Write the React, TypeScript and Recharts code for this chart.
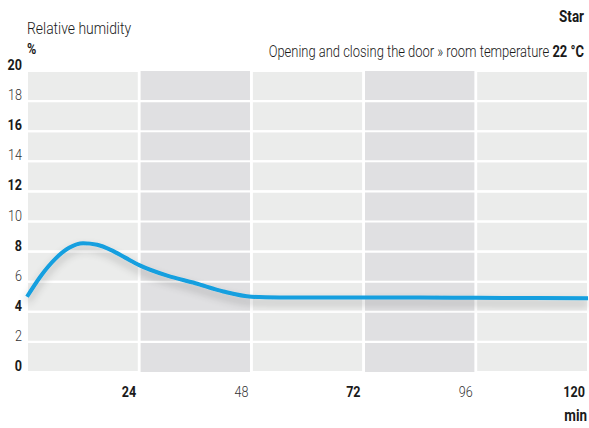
import { LineChart, Line, XAxis, YAxis, CartesianGrid, ReferenceArea } from 'recharts';

const minutes = [0, 3, 6, 9, 12, 15, 18, 21, 24, 30, 36, 42, 48, 54, 60, 72, 84, 96, 108, 120];
const humidity = [5.0, 6.4, 7.5, 8.25, 8.55, 8.45, 8.1, 7.6, 7.1, 6.4, 5.9, 5.35, 5.0, 4.95, 4.95, 4.95, 4.95, 4.93, 4.92, 4.9];
const xTicks = [0, 24, 48, 72, 96, 120];
const yTicks = [0, 2, 4, 6, 8, 10, 12, 14, 16, 18, 20];
const boldX = [24, 72, 120];
const boldY = [0, 4, 8, 12, 16, 20];
const darkBands = [
  [24, 48],
  [72, 96],
];

const data = minutes.map((m, i) => ({ min: m, rh: humidity[i] }));

const FONT = '"Roboto", "Liberation Sans", sans-serif';
const TEXT = '#1a1a1a';

// condensed text: Roboto squeezed horizontally
function Narrow({ x, y, anchor = 'start', bold = false, size = 16, sx = 0.84, fill = TEXT, children }: any) {
  return (
    <g transform={`translate(${x} ${y}) scale(${sx} 1)`}>
      <text x={0} y={0} textAnchor={anchor} fontFamily={FONT} fontSize={size}
        fontWeight={bold ? 700 : 300} fill={fill}>
        {children}
      </text>
    </g>
  );
}

function YTick({ y, payload }: any) {
  const bold = boldY.includes(payload.value);
  return (
    <Narrow x={22} y={y - 1} anchor="end" bold={bold} size={15} fill={bold ? TEXT : '#333'}>
      {payload.value}
    </Narrow>
  );
}

function XTick({ x, y, payload }: any) {
  if (payload.value === 0) return null;
  const bold = boldX.includes(payload.value);
  return (
    <Narrow x={x - 3} y={y + 17} anchor="end" bold={bold} size={15} fill={bold ? TEXT : '#333'}>
      {payload.value}
    </Narrow>
  );
}

export default function App() {
  return (
    <div style={{ position: 'absolute', left: 0, top: 0, width: 589, height: 428, fontFamily: FONT }}>
      <LineChart width={589} height={428} data={data} margin={{ top: 71, right: 1, left: 0, bottom: 0 }}>
        <defs>
          <filter id="lineShadow" x="-10%" y="-50%" width="120%" height="200%">
            <feGaussianBlur in="SourceAlpha" stdDeviation="4" />
            <feOffset dx="0" dy="5" result="blur" />
            <feComponentTransfer>
              <feFuncA type="linear" slope="0.25" />
            </feComponentTransfer>
            <feMerge>
              <feMergeNode />
              <feMergeNode in="SourceGraphic" />
            </feMerge>
          </filter>
        </defs>
        <CartesianGrid fill="#ebeceb" stroke="#ffffff" strokeWidth={2} strokeOpacity={1} />
        {darkBands.map(([a, b]) => (
          <ReferenceArea key={a} x1={a} x2={b} y1={0} y2={20} fill="#e0e0e2" fillOpacity={1} stroke="none" />
        ))}
        {xTicks.slice(1, 5).map((t) => (
          <ReferenceArea key={'v' + t} x1={t - 0.3} x2={t + 0.3} y1={0} y2={20} fill="#ffffff" fillOpacity={1} stroke="none" />
        ))}
        {yTicks.slice(1, 10).map((t) => (
          <ReferenceArea key={'h' + t} x1={0} x2={120} y1={t - 0.07} y2={t + 0.07} fill="#ffffff" fillOpacity={1} stroke="none" />
        ))}
        <XAxis dataKey="min" type="number" domain={[0, 120]} ticks={xTicks} axisLine={false} tickLine={false}
          height={56} tick={<XTick />} interval={0} />
        <YAxis type="number" domain={[0, 20]} ticks={yTicks} axisLine={false} tickLine={false}
          width={27} tick={<YTick />} interval={0} />
        <Line type="monotone" dataKey="rh" stroke="#129fdf" strokeWidth={4} dot={false}
          isAnimationActive={false} filter="url(#lineShadow)" />
        <Narrow x={27} y={34} sx={0.87}>Relative humidity</Narrow>
        <Narrow x={27} y={54} bold size={15}>%</Narrow>
        <Narrow x={584} y={22} anchor="end" bold>Star</Narrow>
        <Narrow x={584} y={57} anchor="end" sx={0.81}>
          Opening and closing the door » room temperature <tspan fontWeight={700}>22 °C</tspan>
        </Narrow>
        <Narrow x={587} y={421} anchor="end" bold>min</Narrow>
      </LineChart>
    </div>
  );
}
